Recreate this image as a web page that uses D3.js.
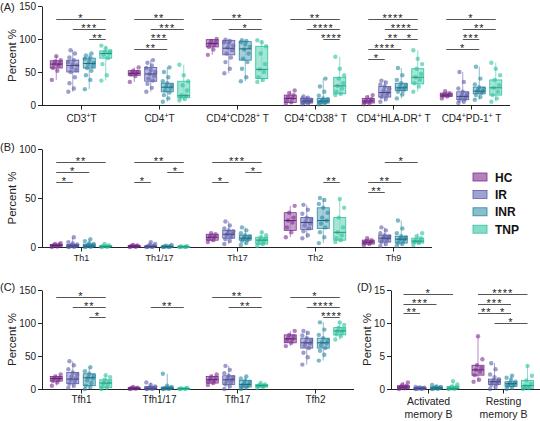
<!DOCTYPE html>
<html>
<head>
<meta charset="utf-8">
<script src="https://cdn.jsdelivr.net/npm/d3@7"></script>
<style>
body { margin: 0; background: #fff; }
svg { font-family: "Liberation Sans", Arial, sans-serif; }
</style>
</head>
<body>
<div class="chart"></div>
<script>
const groups = ["HC", "IR", "INR", "TNP"];
const strokeCols = ["#7d2e8e", "#5b5da9", "#2a87a1", "#2dc29f"];
const fillCols = ["#b27fbf", "#a0a2d3", "#88bfcd", "#86dcc6"];

// ---- panel A ----
const catsA = ["CD3^+T", "CD4^+T", "CD4^+CD28^+ T", "CD4^+CD38^+ T", "CD4^+HLA-DR^+ T", "CD4^+PD-1^+ T"];
// [min, q1, median, q3, max] for HC, IR, INR, TNP
const boxesA = [
  [[38,56,62,67,74], [20,50,60,68,83], [24,56,63,71,78], [37,71,78,82,90]],
  [[35,45,48,52,57], [20,36,47,57,68], [5,20,27,33,57], [7,11,14,36,61]],
  [[76,88,93,99,100], [48,76,86,98,99], [36,68,85,96,98], [35,40,54,89,98]],
  [[2,4,10,15,22], [1,3,6,10,13], [1,3,6,10,40], [15,17,29,42,73]],
  [[1,3,6,10,15], [5,12,19,28,37], [10,22,26,33,56], [20,32,42,55,83]],
  [[10,13,15,18,21], [3,8,13,20,50], [8,17,21,27,58], [5,15,26,38,64]]
];
const pointsA = [
  [[38,52,56,60,62,63,66,68,74], [20,25,33,42,50,53,57,60,62,65,68,72,78,83], [24,38,45,52,56,59,62,64,67,70,72,75,78], [37,45,62,71,76,78,80,82,86,90]],
  [[35,44,46,48,49,50,52,57], [20,26,32,37,40,44,47,50,53,56,60,64,68], [5,10,15,19,22,25,28,30,33,36,42,50,57], [7,9,11,14,15,22,30,36,45,61]],
  [[76,84,88,91,93,95,97,100], [48,55,65,72,78,83,87,90,93,95,97,99], [36,42,55,65,70,78,84,88,92,95,97,98], [35,38,42,50,54,62,78,89,95,98]],
  [[2,4,7,10,12,15,18,22], [1,2,3,4,5,6,7,8,9,10,11,13], [1,2,3,4,5,6,7,9,10,14,20,28,40], [15,17,20,25,29,33,40,45,55,73]],
  [[1,2,4,6,7,9,12,15], [5,9,12,15,17,19,22,25,28,31,34,37], [10,16,20,22,24,26,28,30,33,38,45,56], [20,28,33,38,42,47,55,62,70,83]],
  [[10,13,14,15,16,18,21], [3,5,7,9,11,13,15,17,20,25,35,50], [8,12,15,18,20,21,23,25,27,31,40,58], [5,10,15,20,26,30,38,45,55,64]]
];
// [category, group1, group2, row, label]
const sigA = [
  [0,0,3,0,"*"], [0,1,3,1,"***"], [0,2,3,2,"**"],
  [1,0,3,0,"**"], [1,1,3,1,"***"], [1,1,2,2,"***"], [1,0,2,3,"**"],
  [2,0,3,0,"**"], [2,1,3,1,"*"],
  [3,0,3,0,"**"], [3,1,3,1,"****"], [3,2,3,2,"****"],
  [4,0,3,0,"****"], [4,1,3,1,"****"], [4,1,2,2,"**"], [4,2,3,2,"*"], [4,0,2,3,"****"], [4,0,1,4,"*"],
  [5,0,3,0,"*"], [5,1,3,1,"**"], [5,1,2,2,"***"], [5,0,2,3,"*"]
];

// ---- panel B ----
const catsB = ["Th1", "Th1/17", "Th17", "Th2", "Th9"];
const boxesB = [
  [[0,0.8,1.5,2.5,4], [0,0.3,1,2.5,10], [0,0.3,1,3,8], [0,0.2,0.5,1.5,3]],
  [[0,0.3,0.8,1.5,2], [0,0.2,0.5,1.2,5], [0,0.1,0.3,0.8,2], [0,0.1,0.2,0.4,0.8]],
  [[5,7,10,13,14], [3,9,13,17,26], [2,7,9,12,20], [1,3,7,10,15]],
  [[10,17,27,35,42], [9,18,25,30,43], [4,19,27,40,50], [5,7,15,30,49]],
  [[2,3,5,7,9], [1,5,9,12,20], [1,4,8,11,27], [2,4,6,9,14]]
];
const pointsB = [
  [[0,0.5,1,1.5,2,2.5,3,4], [0,0.2,0.4,0.7,1,1.3,1.8,2.5,3.5,5,10], [0,0.2,0.5,0.8,1,1.5,2,3,4,6,8], [0,0.2,0.4,0.6,1,1.5,3]],
  [[0,0.3,0.6,0.8,1.2,1.5,2], [0,0.1,0.3,0.5,0.8,1.2,2,3,5], [0,0.1,0.2,0.3,0.5,0.8,1.2,2], [0,0.1,0.2,0.3,0.5,0.8]],
  [[5,7,8,10,11,13,14], [3,6,8,10,12,13,14,16,17,19,22,26], [2,4,6,7,8,9,10,11,12,14,17,20], [1,3,4,6,7,8,10,12,15]],
  [[10,15,20,25,27,30,35,42], [9,12,16,19,22,24,26,28,30,34,38,43], [4,10,15,20,24,27,30,35,40,44,48,50], [5,7,9,12,15,20,30,40,49]],
  [[2,3,4,5,6,7,9], [1,3,5,7,8,9,10,11,12,14,17,20], [1,3,4,6,7,8,9,10,11,14,19,27], [2,4,5,6,7,9,11,14]]
];
const sigB = [
  [0,0,3,0,"**"], [0,0,2,1,"*"], [0,0,1,2,"*"],
  [1,0,3,0,"**"], [1,2,3,1,"*"], [1,0,1,2,"*"],
  [2,0,3,0,"***"], [2,2,3,1,"*"], [2,0,1,2,"*"],
  [3,2,3,2,"**"],
  [4,1,3,0,"*"], [4,0,2,2,"**"], [4,0,1,3,"**"]
];

// ---- panel C ----
const catsC = ["Tfh1", "Tfh1/17", "Tfh17", "Tfh2"];
const boxesC = [
  [[5,12,16,19,22], [2,8,15,25,42], [0,5,17,23,33], [0,2,9,14,21]],
  [[0,0.5,1,2,3], [0,0.3,1,4,10], [0,0.3,1,3,23], [0,0.2,0.5,1,2]],
  [[6,9,14,19,22], [0,7,14,20,35], [0,3,7,13,19], [2,3,5,7,9]],
  [[65,70,76,82,88], [37,62,70,77,88], [43,62,70,77,101], [75,82,88,93,101]]
];
const pointsC = [
  [[5,10,12,14,16,17,19,22], [2,5,8,11,14,16,19,22,25,30,36,42], [0,3,5,9,13,16,18,20,23,27,33], [0,2,4,7,9,11,14,18,21]],
  [[0,0.5,0.8,1,1.5,2,3], [0,0.2,0.5,0.8,1,1.5,2.5,4,6,10], [0,0.2,0.5,0.8,1,1.5,2,3,5,23], [0,0.2,0.4,0.6,1,2]],
  [[6,9,11,13,15,17,19,22], [0,4,7,10,12,14,16,18,20,24,29,35], [0,2,3,5,6,7,9,11,13,16,19], [2,3,4,5,6,7,9]],
  [[65,70,73,75,77,80,82,88], [37,48,55,62,66,69,71,74,77,81,85,88], [43,52,58,62,66,69,71,74,77,82,90,101], [75,80,83,86,88,90,93,97,101]]
];
const sigC = [
  [0,0,3,0,"*"], [0,1,3,1,"**"], [0,2,3,2,"*"],
  [1,1,3,1,"**"],
  [2,0,3,0,"**"], [2,1,3,1,"**"],
  [3,0,3,0,"*"], [3,1,3,1,"****"], [3,2,3,2,"****"]
];

// ---- panel D ----
const catsD = ["Activated\nmemory B", "Resting\nmemory B"];
const boxesD = [
  [[0,0.1,0.3,0.5,1], [0,0.05,0.1,0.2,0.3], [0,0.05,0.15,0.3,0.6], [0,0.02,0.1,0.4,1.2]],
  [[1.1,2.1,2.9,3.6,8], [0,0.7,1.1,1.5,3.9], [0,0.4,0.8,1.1,2], [0,0.1,0.5,1.3,3.5]]
];
const pointsD = [
  [[0,0.1,0.2,0.3,0.4,0.5,0.7,1], [0,0.03,0.05,0.08,0.1,0.12,0.15,0.2,0.25,0.3], [0,0.03,0.05,0.1,0.15,0.2,0.25,0.3,0.4,0.6], [0,0.02,0.05,0.1,0.2,0.3,0.4,0.7,1.2]],
  [[1.1,1.4,2.1,2.6,2.9,3.2,3.6,4.5,8], [0,0.3,0.6,0.8,1,1.1,1.3,1.5,1.8,2.2,3,3.9], [0,0.2,0.4,0.6,0.7,0.8,0.9,1.1,1.4,1.7,2], [0,0.1,0.2,0.4,0.5,0.8,1.3,2,3.5]]
];
const sigD = [
  [0,0,3,0,"*"], [0,0,2,1,"***"], [0,0,1,2,"**"],
  [1,0,3,0,"****"], [1,0,2,1,"***"], [1,0,1,2,"**"], [1,1,2,2,"*"], [1,1,3,3,"*"]
];

const svg = d3.select('.chart').append('svg')
    .attr('width', 540)
    .attr('height', 421);

// label text with "^+" superscripts and "\n" line breaks
function fillLabel(text, str, lineH) {
    str.split("\n").forEach((line, li) => {
        const parts = line.split("^+");
        parts.forEach((part, i) => {
            if (i > 0) {
                text.append("tspan").attr("dy", -4).style("font-size", "7px").text("+");
            }
            const t = text.append("tspan").text(part);
            if (i === 0 && li > 0) t.attr("x", text.attr("x")).attr("dy", lineH);
            if (i > 0) t.attr("dy", 4);
        });
    });
}

function drawPanel(p) {
    const g = svg.append("g");
    const x = d3.scaleBand().domain(p.cats).range(p.xr);
    const y = d3.scaleLinear().domain(p.yd).range(p.yr);
    const xg = d3.scalePoint().domain(groups).range([-24.75, 24.75]);
    const bw = 12;
    const cx = (ci, gi) => x(p.cats[ci]) + x.bandwidth() / 2 + xg(groups[gi]);
    const y0 = y(0) + 0.5;

    // y axis
    const ya = g.append("g")
        .attr("transform", "translate(" + p.x0 + ",0)")
        .call(d3.axisLeft(y).tickValues(p.ticks).tickSize(4).tickSizeOuter(0).tickPadding(2));
    ya.selectAll("text").style("font-size", "10px").attr("fill", "#222");
    ya.selectAll("line, path").attr("stroke", "#222");

    // x axis
    g.append("line")
        .attr("x1", p.x0).attr("x2", p.x1)
        .attr("y1", y0).attr("y2", y0)
        .attr("stroke", "#222");
    p.cats.forEach((c, ci) => {
        const xc = Math.round(x(c) + x.bandwidth() / 2) + 0.5;
        g.append("line")
            .attr("x1", xc).attr("x2", xc)
            .attr("y1", y0).attr("y2", y0 + 4)
            .attr("stroke", "#222");
        const t = g.append("text")
            .attr("x", xc).attr("y", p.labelY)
            .attr("text-anchor", "middle")
            .style("font-size", p.catFont + "px")
            .attr("fill", "#222");
        fillLabel(t, c, 13);
    });

    // y title
    g.append("text")
        .attr("transform", "translate(" + p.titleX + "," + ((p.yr[0] + p.yr[1]) / 2) + ") rotate(-90)")
        .attr("text-anchor", "middle")
        .style("font-size", "11.5px")
        .attr("fill", "#222")
        .text("Percent %");

    // panel tag
    g.append("text")
        .attr("x", p.tagX).attr("y", p.tagY)
        .style("font-size", "11px")
        .attr("fill", "#222")
        .text(p.tag);

    // boxes, whiskers, points
    p.boxes.forEach((row, ci) => {
        row.forEach((s, gi) => {
            const xc = cx(ci, gi);
            const col = strokeCols[gi];
            g.append("line")
                .attr("x1", xc).attr("x2", xc)
                .attr("y1", y(s[0])).attr("y2", y(s[4]))
                .attr("stroke", col).attr("stroke-opacity", 0.55);
            g.append("rect")
                .attr("x", xc - bw / 2).attr("width", bw)
                .attr("y", y(s[3])).attr("height", Math.max(1, y(s[1]) - y(s[3])))
                .attr("fill", fillCols[gi]).attr("fill-opacity", 0.75)
                .attr("stroke", col).attr("stroke-width", 0.8);
            g.selectAll(null)
                .data(p.points[ci][gi])
                .enter().append("circle")
                .attr("cx", (d, k) => xc + ((k * 5) % 9 - 4) * 1.1)
                .attr("cy", d => y(d))
                .attr("r", 2.2)
                .attr("fill", col)
                .attr("fill-opacity", 0.6);
            g.append("line")
                .attr("x1", xc - bw / 2).attr("x2", xc + bw / 2)
                .attr("y1", y(s[2])).attr("y2", y(s[2]))
                .attr("stroke", d3.color(col).darker(0.8)).attr("stroke-width", 1);
        });
    });

    // significance bars
    p.sigs.forEach(s => {
        const xa = cx(s[0], s[1]), xb = cx(s[0], s[2]);
        const ly = Math.round(p.sigTop + s[3] * p.sigStep) + 0.5;
        g.append("line")
            .attr("x1", xa).attr("x2", xb)
            .attr("y1", ly).attr("y2", ly)
            .attr("stroke", "#555").attr("stroke-width", 1);
        g.append("text")
            .attr("x", (xa + xb) / 2).attr("y", ly + 2.5)
            .attr("text-anchor", "middle")
            .style("font-size", "11px")
            .style("letter-spacing", "1px")
            .attr("fill", "#222")
            .text(s[4]);
    });
}

drawPanel({tag: "(A)", tagX: 0, tagY: 11, cats: catsA, boxes: boxesA, points: pointsA, sigs: sigA,
    xr: [42, 510], x0: 42, x1: 510, yd: [0, 150], yr: [105, 6], ticks: [0, 50, 100, 150],
    sigTop: 19, sigStep: 10, catFont: 10, labelY: 122, titleX: 16});
drawPanel({tag: "(B)", tagX: 0, tagY: 151, cats: catsB, boxes: boxesB, points: pointsB, sigs: sigB,
    xr: [42, 432], x0: 42, x1: 432, yd: [0, 100], yr: [247, 149], ticks: [0, 50, 100],
    sigTop: 162, sigStep: 10, catFont: 9, labelY: 261, titleX: 16});
drawPanel({tag: "(C)", tagX: 0, tagY: 291, cats: catsC, boxes: boxesC, points: pointsC, sigs: sigC,
    xr: [42, 354], x0: 42, x1: 354, yd: [0, 150], yr: [389, 290], ticks: [0, 50, 100, 150],
    sigTop: 297, sigStep: 10, catFont: 10, labelY: 403, titleX: 16});
drawPanel({tag: "(D)", tagX: 357, tagY: 291, cats: catsD, boxes: boxesD, points: pointsD, sigs: sigD,
    xr: [391, 540], x0: 391, x1: 540, yd: [0, 15], yr: [389, 290], ticks: [0, 5, 10, 15],
    sigTop: 294, sigStep: 9.7, catFont: 10.5, labelY: 405, titleX: 371});

// legend
const legend = svg.append("g");
groups.forEach((gname, i) => {
    const ly = 177 + i * 17.4;
    legend.append("rect")
        .attr("x", 473).attr("y", ly - 4)
        .attr("width", 14).attr("height", 8)
        .attr("fill", fillCols[i]).attr("stroke", strokeCols[i]).attr("stroke-width", 0.8);
    legend.append("text")
        .attr("x", 495).attr("y", ly + 4.5)
        .style("font-size", "12px").style("font-weight", "bold")
        .attr("fill", "#111")
        .text(gname);
});
</script>
</body>
</html>
